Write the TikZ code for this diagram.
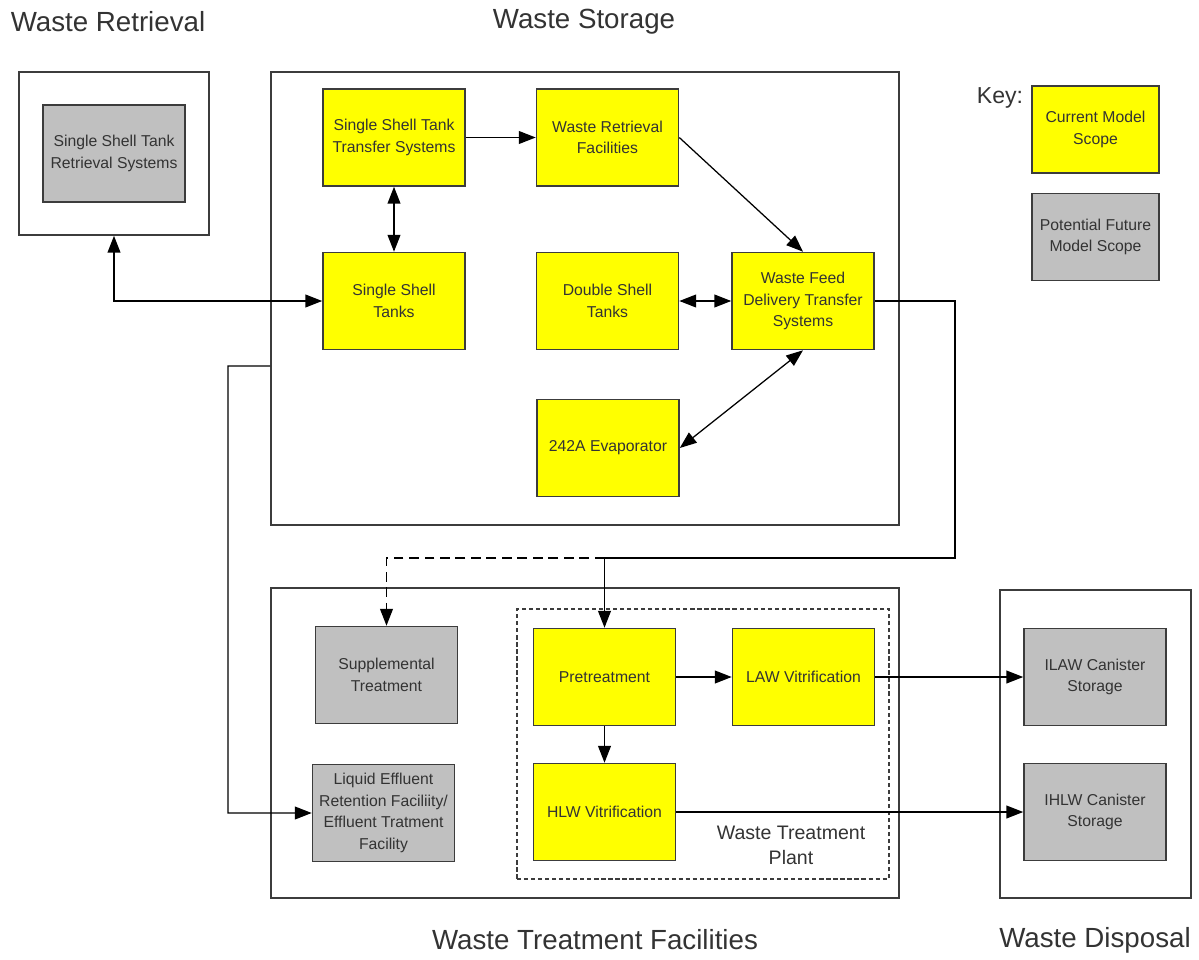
\documentclass[tikz,border=0pt]{standalone}
\usepackage{fontspec}
\setmainfont{Liberation Sans}
\usetikzlibrary{arrows.meta,calc}
\definecolor{boxline}{HTML}{3C3C3C}
\definecolor{scopegray}{HTML}{C0C0C0}
\definecolor{scopeyellow}{HTML}{FFFF00}
\definecolor{txtgray}{HTML}{333333}
\begin{document}
\begin{tikzpicture}[>={Triangle[length=0.42cm,width=0.32cm]},x=0.025cm,y=-0.025cm,
		zone/.style={draw=boxline,line width=1.1pt,inner sep=0pt},
		cur/.style={draw=boxline,fill=scopeyellow,line width=1.1pt,minimum width=3.55cm,minimum height=2.425cm,align=center,inner sep=0pt,font=\fontsize{11.2}{15.4}\selectfont,text=txtgray},
		fut/.style={cur,fill=scopegray},
		conn/.style={line width=0.9pt,black},
		title/.style={font=\fontsize{19.7}{22}\selectfont,text=txtgray}]
		\useasboundingbox (0,0) rectangle (1199,960);
		% outer areas
		\node[zone,minimum width=4.75cm,minimum height=4.075cm] (wret) at (114,153.5) {};
		\node[zone,minimum width=15.7cm,minimum height=11.325cm] (wsto) at (585,298.5) {};
		\node[zone,minimum width=15.7cm,minimum height=7.75cm] (wtf) at (585,743) {};
		\node[zone,minimum width=4.775cm,minimum height=7.7cm] (wdis) at (1095.5,744) {};
		\node[zone,dashed,dash pattern=on 3pt off 2pt,minimum width=9.3cm,minimum height=6.75cm] (wtp) at (703,744) {};
		\node[title] (tret) at (108,22) {Waste Retrieval};
		\node[title] (tsto) at (584,22) {Waste Storage};
		\node[title] (ttf) at (595,940) {Waste Treatment Facilities};
		\node[title] (tdis) at (1095,940) {Waste Disposal};
		\node[font=\fontsize{13.9}{17.8}\selectfont,text=txtgray,align=center] (twtp) at (791,845) {Waste Treatment\\Plant};
		% key
		\node[font=\fontsize{16.4}{18}\selectfont,text=txtgray] (key) at (1000,98) {Key:};
		\node[cur,minimum width=3.175cm,minimum height=2.175cm] (keyc) at (1095.5,129.5) {Current Model\\Scope};
		\node[fut,minimum width=3.175cm,minimum height=2.175cm] (keyp) at (1095.5,237) {Potential Future\\Model Scope};
		% boxes
		\node[fut] (sstr) at (114,153.5) {Single Shell Tank\\Retrieval Systems};
		\node[cur] (sstt) at (394,137.5) {Single Shell Tank\\Transfer Systems};
		\node[cur] (sst) at (394,301) {Single Shell\\Tanks};
		\node[cur] (wrf) at (607.5,137.5) {Waste Retrieval\\Facilities};
		\node[cur] (dst) at (607.5,301) {Double Shell\\Tanks};
		\node[cur] (wfd) at (803,301) {Waste Feed\\Delivery Transfer\\Systems};
		\node[cur] (evap) at (608,448) {242A Evaporator};
		\node[fut] (supp) at (386.5,675) {Supplemental\\Treatment};
		\node[fut] (lerf) at (383.5,813) {Liquid Effluent\\Retention Faciliity/\\Effluent Tratment\\Facility};
		\node[cur] (pre) at (604.5,677) {Pretreatment};
		\node[cur] (hlw) at (604.5,812) {HLW Vitrification};
		\node[cur] (law) at (803.5,677) {LAW Vitrification};
		\node[fut] (ilaw) at (1095,677) {ILAW Canister\\Storage};
		\node[fut] (ihlw) at (1095,812) {IHLW Canister\\Storage};
		% connectors
		\coordinate (split) at (955,558);
		\coordinate (lbend) at (228,366);
		\draw[conn,->] (sstt) -- (wrf);
		\draw[conn,<->] (sstt) -- (sst);
		\draw[conn,<->] (wret.south) |- (sst.west);
		\draw[conn,->] (wrf.east) -- (wfd.north);
		\draw[conn,<->] (dst) -- (wfd);
		\draw[conn,<->] (wfd.south) -- (evap.east);
		\draw[conn,->] (wfd.east) -| (split) -| (pre.north);
		\draw[conn,->,dash pattern=on 7pt off 4pt] (pre.north |- split) -| (supp.north);
		\draw[conn,->] ($(wsto.west)+(0,67.5)$) -- (lbend) |- (lerf.west);
		\draw[conn,->] (pre) -- (law);
		\draw[conn,->] (pre) -- (hlw);
		\draw[conn,->] (law) -- (ilaw);
		\draw[conn,->] (hlw) -- (ihlw);
\end{tikzpicture}
\end{document}
